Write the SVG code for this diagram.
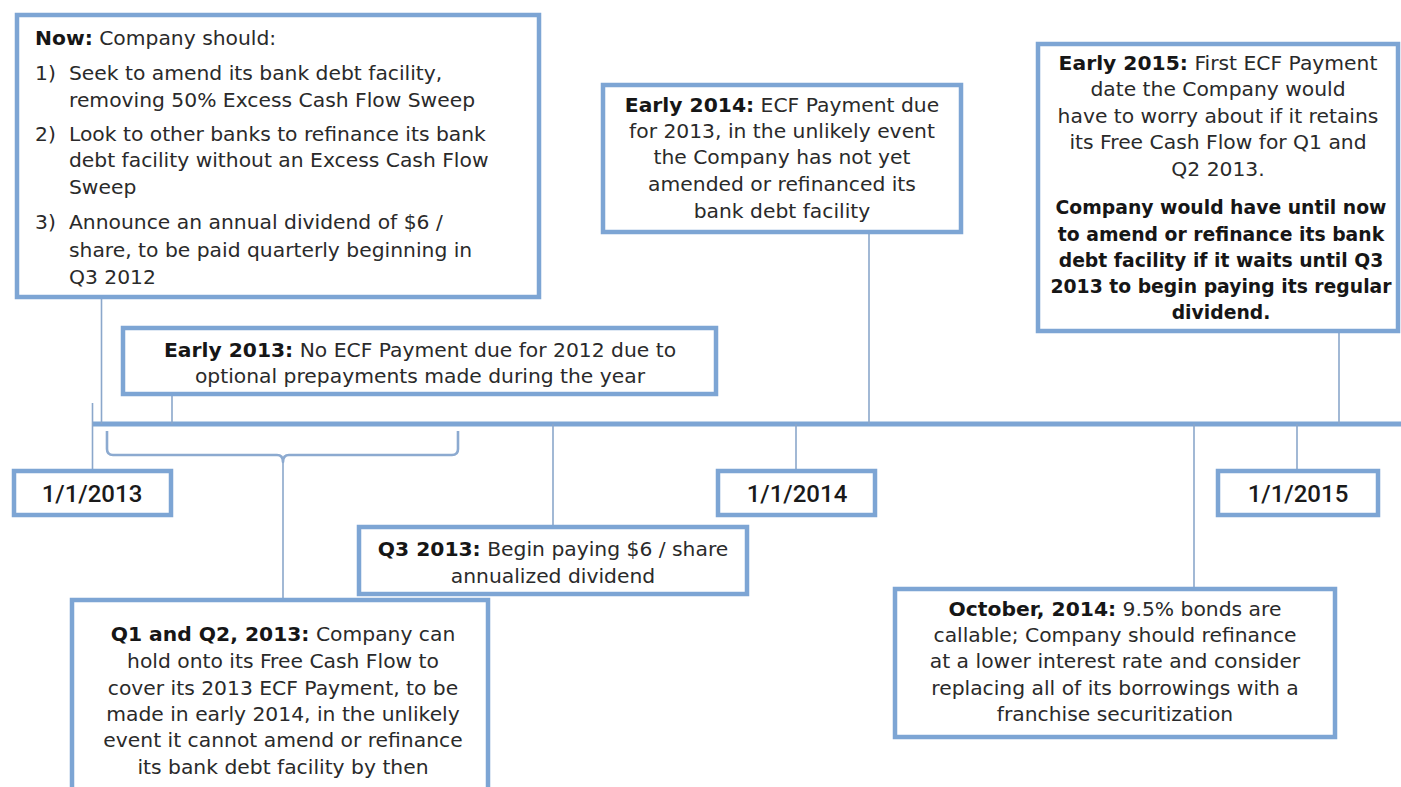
<svg xmlns="http://www.w3.org/2000/svg" width="1401" height="787" viewBox="0 0 1401 787">
<style>
.box{fill:#fff;stroke:#7da5d4;stroke-width:4.5}
.t{font-family:"DejaVu Sans","Liberation Sans",sans-serif;font-size:20.3px;fill:#2a2a2a}
.c{text-anchor:middle}
.b{font-weight:bold;fill:#161616}
.s{font-size:18.8px}
.d{font-family:Roboto,"Liberation Sans",sans-serif;font-weight:500;font-size:24px;fill:#1a1a1a;text-anchor:middle}
.conn line{stroke:#8ba7cb;stroke-width:1.6}
.axis{stroke:#7da5d4;stroke-width:5}
.brace{fill:none;stroke:#8caad0;stroke-width:2.6;stroke-linejoin:round}
</style>
<rect width="1401" height="787" fill="#fff"/>
<g id="connectors">
<line class="axis" x1="92" y1="424" x2="1401" y2="424"/>
<g class="conn">
<line x1="92.5" y1="403" x2="92.5" y2="470"/>
<line x1="101.5" y1="299" x2="101.5" y2="424"/>
<line x1="172" y1="396" x2="172" y2="424"/>
<line x1="869" y1="234" x2="869" y2="424"/>
<line x1="1339" y1="333" x2="1339" y2="424"/>
<line x1="796" y1="424" x2="796" y2="470"/>
<line x1="1297" y1="424" x2="1297" y2="470"/>
<line x1="553" y1="424" x2="553" y2="526"/>
<line x1="1194" y1="424" x2="1194" y2="588"/>
<line x1="283" y1="462" x2="283" y2="599"/>
</g>
<path class="brace" d="M107,431 V449 Q107,455 113,455 H277 Q283,455 283,462 Q283,455 289,455 H452 Q458,455 458,449 V431"/>
</g>
<g id="now">
<rect class="box" x="17" y="15" width="522" height="282"/>
<text class="t" x="35" y="45"><tspan class="b">Now:</tspan> Company should:</text>
<text class="t" x="35" y="80">1)</text>
<text class="t" x="69" y="80">Seek to amend its bank debt facility,</text>
<text class="t" x="69" y="107">removing 50% Excess Cash Flow Sweep</text>
<text class="t" x="35" y="141">2)</text>
<text class="t" x="69" y="141">Look to other banks to refinance its bank</text>
<text class="t" x="69" y="167">debt facility without an Excess Cash Flow</text>
<text class="t" x="69" y="194">Sweep</text>
<text class="t" x="35" y="229">3)</text>
<text class="t" x="69" y="229">Announce an annual dividend of $6 /</text>
<text class="t" x="69" y="257">share, to be paid quarterly beginning in</text>
<text class="t" x="69" y="284">Q3 2012</text>
</g>
<g id="early2014">
<rect class="box" x="603" y="85" width="358" height="147"/>
<text class="t c" x="782" y="112"><tspan class="b">Early 2014:</tspan> ECF Payment due</text>
<text class="t c" x="782" y="138">for 2013, in the unlikely event</text>
<text class="t c" x="782" y="164">the Company has not yet</text>
<text class="t c" x="782" y="191">amended or refinanced its</text>
<text class="t c" x="782" y="218">bank debt facility</text>
</g>
<g id="early2015">
<rect class="box" x="1038" y="44" width="360" height="287"/>
<text class="t c" x="1218" y="70"><tspan class="b">Early 2015:</tspan> First ECF Payment</text>
<text class="t c" x="1218" y="96">date the Company would</text>
<text class="t c" x="1218" y="123">have to worry about if it retains</text>
<text class="t c" x="1218" y="149">its Free Cash Flow for Q1 and</text>
<text class="t c" x="1218" y="176">Q2 2013.</text>
<text class="t c b s" x="1221" y="214">Company would have until now</text>
<text class="t c b s" x="1221" y="241">to amend or refinance its bank</text>
<text class="t c b s" x="1221" y="267">debt facility if it waits until Q3</text>
<text class="t c b s" x="1221" y="293">2013 to begin paying its regular</text>
<text class="t c b s" x="1221" y="319">dividend.</text>
</g>
<g id="early2013">
<rect class="box" x="123" y="328" width="593" height="66"/>
<text class="t c" x="420" y="357"><tspan class="b">Early 2013:</tspan> No ECF Payment due for 2012 due to</text>
<text class="t c" x="420" y="383">optional prepayments made during the year</text>
</g>
<g id="d2013">
<rect class="box" x="14" y="471" width="157" height="44"/>
<text class="d" x="92" y="502">1/1/2013</text>
</g>
<g id="d2014">
<rect class="box" x="718" y="471" width="157" height="44"/>
<text class="d" x="797" y="502">1/1/2014</text>
</g>
<g id="d2015">
<rect class="box" x="1218" y="471" width="160" height="44"/>
<text class="d" x="1298" y="502">1/1/2015</text>
</g>
<g id="q3">
<rect class="box" x="359" y="527" width="388" height="67"/>
<text class="t c" x="553" y="556"><tspan class="b">Q3 2013:</tspan> Begin paying $6 / share</text>
<text class="t c" x="553" y="583">annualized dividend</text>
</g>
<g id="q1q2">
<rect class="box" x="72" y="600" width="416" height="200"/>
<text class="t c" x="283" y="641"><tspan class="b">Q1 and Q2, 2013:</tspan> Company can</text>
<text class="t c" x="283" y="668">hold onto its Free Cash Flow to</text>
<text class="t c" x="283" y="695">cover its 2013 ECF Payment, to be</text>
<text class="t c" x="283" y="721">made in early 2014, in the unlikely</text>
<text class="t c" x="283" y="747">event it cannot amend or refinance</text>
<text class="t c" x="283" y="774">its bank debt facility by then</text>
</g>
<g id="oct2014">
<rect class="box" x="895" y="589" width="440" height="148"/>
<text class="t c" x="1115" y="616"><tspan class="b">October, 2014:</tspan> 9.5% bonds are</text>
<text class="t c" x="1115" y="642">callable; Company should refinance</text>
<text class="t c" x="1115" y="668">at a lower interest rate and consider</text>
<text class="t c" x="1115" y="695">replacing all of its borrowings with a</text>
<text class="t c" x="1115" y="721">franchise securitization</text>
</g>
</svg>
